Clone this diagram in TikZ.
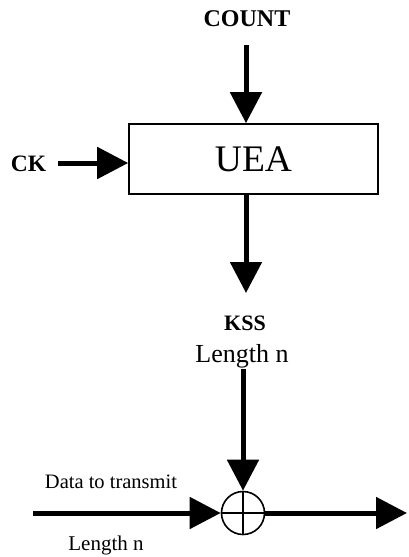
\documentclass[tikz,border=0pt]{standalone}
\usepackage{fontspec}
\setmainfont{Liberation Serif}
\usetikzlibrary{arrows.meta}
\begin{document}
\begin{tikzpicture}[x=1pt,y=-1pt,
  flow/.style={line width=5pt,-{Triangle[length=31pt,width=31pt]}},
  boldlabel/.style={font=\fontsize{#1}{30}\selectfont\bfseries,inner sep=0pt},
  plainlabel/.style={font=\fontsize{#1}{30}\selectfont,inner sep=0pt}]
\useasboundingbox (0,0) rectangle (408,557);

% cipher block
\node[draw,line width=1.6pt,minimum width=249pt,minimum height=70pt,inner sep=0pt,
      font=\fontsize{37.5}{42}\selectfont] (uea) at (253.5,159) {UEA};

% inputs of the block
\node[boldlabel=24] (count) at (247,19) {COUNT};
\coordinate (countin) at (246,45);
\node[boldlabel=23.5] (ck) at (28.5,164) {CK};
\coordinate (ckin) at (58,163);
\draw[flow] (countin) -- (countin |- uea.north);
\draw[flow] (ckin) -- (ckin -| uea.west);

% keystream output
\coordinate (ksstip) at (246,293);
\draw[flow] (uea.south -| ksstip) -- (ksstip);
\node[boldlabel=22] (kss) at (245,323) {KSS};
\node[plainlabel=26] (kssl) at (242,356) {Length n};

% XOR combiner
\node[draw,circle,line width=1.6pt,minimum size=43pt,inner sep=0pt] (xor) at (243,513) {};
\draw[line width=1.8pt] (xor.north) -- (xor.south) (xor.west) -- (xor.east);

\coordinate (kssin) at (243,369);
\draw[flow] (kssin) -- (xor.north);

\coordinate (datain) at (33,513);
\coordinate (dataout) at (407,513);
\draw[flow] (datain) -- (xor.west);
\draw[flow] (xor.east) -- (dataout);

\node[plainlabel=20.5] (data) at (111,482) {Data to transmit};
\node[plainlabel=21] (datal) at (106,545) {Length n};
\end{tikzpicture}
\end{document}
